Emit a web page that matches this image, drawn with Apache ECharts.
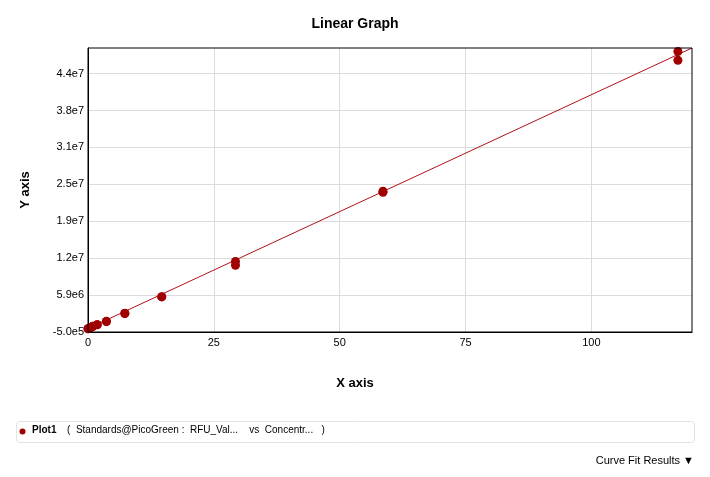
<!DOCTYPE html>
<html>
<head>
<meta charset="utf-8">
<script src="https://cdn.jsdelivr.net/npm/echarts@6/dist/echarts.min.js"></script>
<style>
html,body{margin:0;padding:0;background:#fff;}
#c{width:710px;height:477px;}
</style>
</head>
<body>
<div id="c"></div>
<script>
// Data
const concentration = [117.2, 117.2, 58.6, 58.6, 29.3, 29.3, 14.65, 14.65, 7.32, 7.32, 3.66, 3.66, 1.83, 1.83, 0.92, 0.92, 0.46, 0.46, 0, 0];
const rfu = [4.78e7, 4.63e7, 2.375e7, 2.355e7, 1.166e7, 1.098e7, 5.58e6, 5.54e6, 2.72e6, 2.68e6, 1.33e6, 1.31e6, 7.6e5, 7.4e5, 4.7e5, 4.5e5, 2.6e5, 2.4e5, 8e4, 6e4];
const fitX = [0, 120];
const fitY = [1.0e5, 4.84e7];
const yMin = -5.0e5, yMax = 4.84e7, yStep = 6.357e6;
const xMin = 0, xMax = 120, xStep = 25;

const points = concentration.map((c, i) => [c, rfu[i]]);
const fitLine = fitX.map((x, i) => [x, fitY[i]]);

const chart = echarts.init(document.getElementById('c'));
chart.setOption({
  animation: false,
  backgroundColor: '#fff',
  title: {
    text: 'Linear Graph', left: 'center', top: 12,
    textStyle: {fontFamily: 'Liberation Sans', fontSize: 14, fontWeight: 'bold', color: '#000'}
  },
  grid: {left: 88, top: 48, right: 18, bottom: 145, show: true, borderColor: '#000', borderWidth: 1, z: 10},
  xAxis: {
    type: 'value', min: xMin, max: xMax, interval: xStep,
    axisLine: {onZero: false, lineStyle: {color: '#000', width: 1}},
    axisTick: {show: false},
    axisLabel: {showMaxLabel: false, margin: 5, fontFamily: 'Liberation Sans', fontSize: 11, color: '#000'},
    splitLine: {showMinLine: false, showMaxLine: false, lineStyle: {color: '#dcdcdc'}}
  },
  yAxis: {
    type: 'value', min: yMin, max: yMax, interval: yStep,
    name: 'Y axis', nameLocation: 'middle', nameGap: 56, nameRotate: 90,
    nameTextStyle: {fontFamily: 'Liberation Sans', fontSize: 13, fontWeight: 'bold', color: '#000'},
    axisLine: {show: true, onZero: false, lineStyle: {color: '#000', width: 1}},
    axisTick: {show: false},
    axisLabel: {
      showMaxLabel: false, margin: 4, fontFamily: 'Liberation Sans', fontSize: 11, color: '#000',
      formatter: v => v.toExponential(1).replace('e+', 'e')
    },
    splitLine: {showMinLine: false, showMaxLine: false, lineStyle: {color: '#dcdcdc'}}
  },
  series: [
    {
      type: 'line', data: fitLine, symbol: 'none', clip: true,
      lineStyle: {color: '#b0101a', width: 1}, z: 2
    },
    {
      type: 'scatter', data: points, symbol: 'circle', symbolSize: 9,
      itemStyle: {color: '#a00000', opacity: 1}, z: 3
    }
  ],
  graphic: [
    {type: 'text', left: 'center', top: 377,
     style: {text: 'X axis', fontFamily: 'Liberation Sans', fontSize: 13, fontWeight: 'bold', fill: '#000'}},
    {type: 'rect', left: 16, top: 421, shape: {width: 678, height: 21, r: 3},
     style: {fill: '#fff', stroke: '#e3e3e3', lineWidth: 1}},
    {type: 'circle', shape: {cx: 22.5, cy: 431.5, r: 3}, style: {fill: '#a00000'}},
    {type: 'text', left: 32, top: 425,
     style: {text: 'Plot1', fontFamily: 'Liberation Sans', fontSize: 10, fontWeight: 'bold', fill: '#000'}},
    {type: 'text', left: 67, top: 425,
     style: {text: '(  Standards@PicoGreen :  RFU_Val...    vs  Concentr...   )', fontFamily: 'Liberation Sans Narrow, Liberation Sans', fontSize: 10, fill: '#000'}},
    {type: 'text', right: 16, top: 455,
     style: {text: 'Curve Fit Results \u25BC', fontFamily: 'Liberation Sans Narrow, Liberation Sans', fontSize: 11, fill: '#000'}}
  ]
});
</script>
</body>
</html>
